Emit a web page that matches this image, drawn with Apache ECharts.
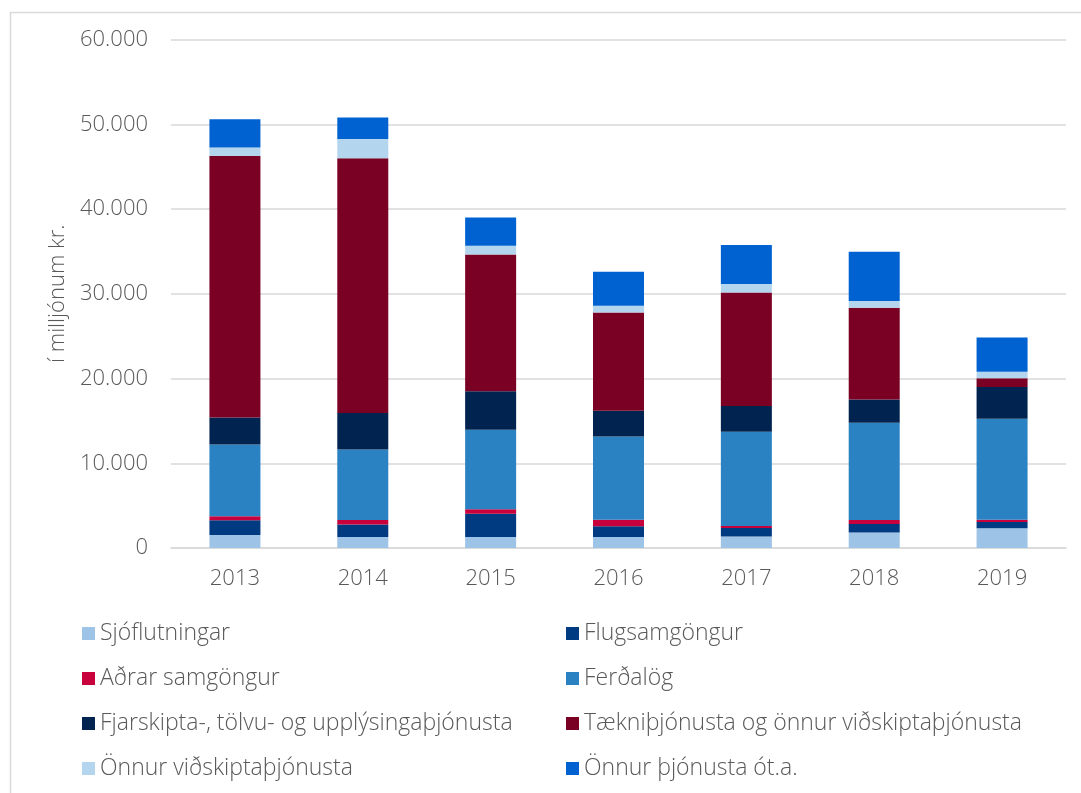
<!DOCTYPE html>
<html>
<head>
<meta charset="utf-8">
<script src="https://cdn.jsdelivr.net/npm/echarts@6/dist/echarts.min.js"></script>
<style>
  html, body { margin: 0; padding: 0; background: #fff; }
  #main { width: 1081px; height: 793px; }
</style>
</head>
<body>
<div id="main"></div>
<script>
// ár
var years = ['2013', '2014', '2015', '2016', '2017', '2018', '2019'];

// gildi í milljónum kr.
var sjoflutningar = [1540, 1300, 1300, 1300, 1350, 1820, 2330];
var flugsamgongur = [1730, 1470, 2730, 1260, 1020, 1020, 750];
var adrarSamgongur = [470, 520, 550, 760, 240, 470, 240];
var ferdalog = [8460, 8330, 9360, 9830, 11100, 11460, 11930];
var fjarskipta = [3200, 4300, 4550, 3030, 3040, 2760, 3760];
var taekni = [30840, 30060, 16150, 11610, 13390, 10830, 1020];
var onnurVidskipta = [1030, 2290, 1030, 790, 1020, 780, 760];
var onnurThjonusta = [3320, 2540, 3320, 4030, 4590, 5810, 4060];

var names = [
    'Sjóflutningar',
    'Flugsamgöngur',
    'Aðrar samgöngur',
    'Ferðalög',
    'Fjarskipta-, tölvu- og upplýsingaþjónusta',
    'Tækniþjónusta og önnur viðskiptaþjónusta',
    'Önnur viðskiptaþjónusta',
    'Önnur þjónusta ót.a.'
];
var values = [sjoflutningar, flugsamgongur, adrarSamgongur, ferdalog, fjarskipta, taekni, onnurVidskipta, onnurThjonusta];
var colors = ['#9DC3E6', '#003A80', '#C8003C', '#2B82C2', '#00244F', '#7A0024', '#B4D5EE', '#0062D1'];

var textColor = '#595959';
var fontFamily = '"Open Sans", "DejaVu Sans", sans-serif';

var myChart = echarts.init(document.getElementById('main'));

var series = [];
for (var i = 0; i < names.length; i++) {
    series.push({
        name: names[i],
        type: 'bar',
        stack: 'total',
        barWidth: 51,
        itemStyle: { color: colors[i] },
        data: values[i]
    });
}

var legendBase = {
    orient: 'vertical',
    top: 617,
    icon: 'rect',
    itemWidth: 13,
    itemHeight: 13,
    itemGap: 22,
    textStyle: { color: textColor, fontSize: 23, fontWeight: 300, fontFamily: fontFamily, lineHeight: 23 }
};

var option = {
    animation: false,
    backgroundColor: '#fff',
    graphic: [{
        type: 'rect',
        left: 8,
        top: 10,
        shape: { width: 1100, height: 800 },
        style: { fill: 'none', stroke: '#d9d9d9', lineWidth: 1.5 }
    }],
    grid: { left: 171, right: 15, top: 39.5, bottom: 245 },
    legend: [
        Object.assign({}, legendBase, { left: 77, data: [names[0], names[2], names[4], names[6]] }),
        Object.assign({}, legendBase, { left: 561, data: [names[1], names[3], names[5], names[7]] })
    ],
    xAxis: {
        type: 'category',
        data: years,
        axisLine: { lineStyle: { color: '#d9d9d9', width: 1.5 } },
        axisTick: { show: false },
        axisLabel: { color: textColor, fontSize: 22, fontWeight: 300, fontFamily: fontFamily, margin: 20 }
    },
    yAxis: {
        type: 'value',
        min: 0,
        max: 60000,
        interval: 10000,
        name: 'í milljónum kr.',
        nameLocation: 'middle',
        nameGap: 113,
        nameTextStyle: { color: textColor, fontSize: 22, fontWeight: 300, fontFamily: fontFamily, verticalAlign: 'middle' },
        axisLine: { show: false },
        axisTick: { show: false },
        splitLine: { lineStyle: { color: '#d9d9d9', width: 1.5 } },
        axisLabel: {
            color: textColor,
            fontSize: 22,
            fontWeight: 300,
            fontFamily: fontFamily,
            margin: 23,
            formatter: function (v) {
                return String(v).replace(/\B(?=(\d{3})+(?!\d))/g, '.');
            }
        }
    },
    series: series
};

myChart.setOption(option);
</script>
</body>
</html>
